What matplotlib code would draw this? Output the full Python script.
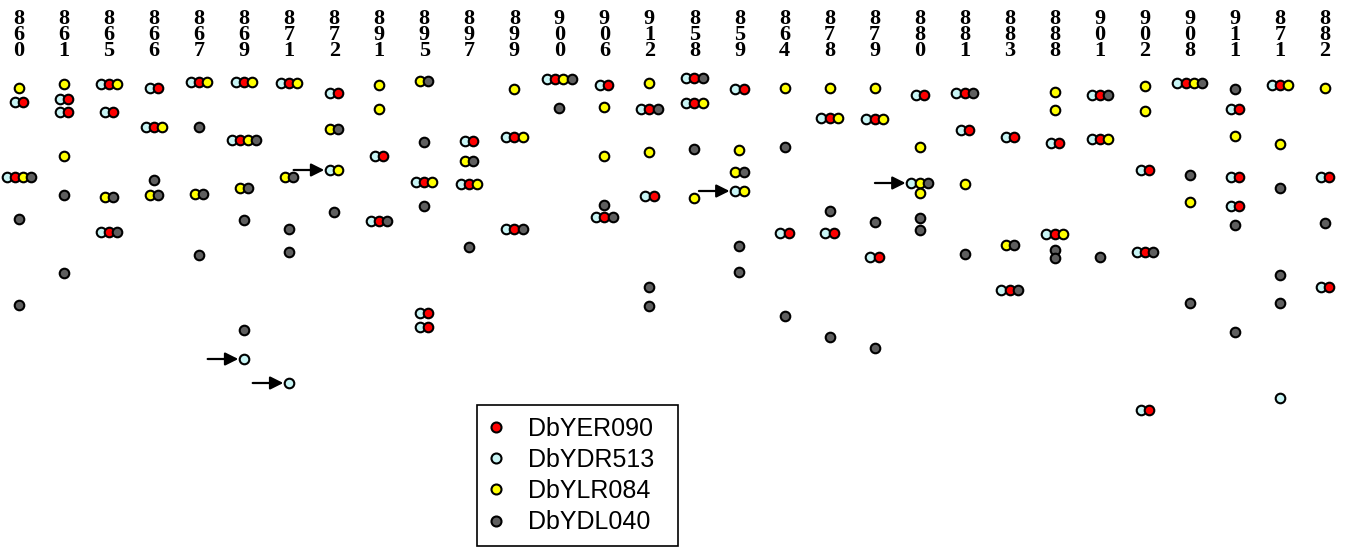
import matplotlib
matplotlib.use("Agg")
import matplotlib.pyplot as plt
from matplotlib.lines import Line2D

# column (strain) labels, read left to right
strains = ['860', '861', '865', '866', '867', '869', '871', '872', '891', '895',
           '897', '899', '900', '906', '912', '858', '859', '864', '878', '879',
           '880', '881', '883', '888', '901', '902', '908', '911', '871', '882']

# band positions per column (top = small), one list per probe
yer090 = [[102, 177], [99, 112], [84, 112, 232], [88, 127], [82], [82, 140], [83], [93],
          [156, 221], [182, 313, 327], [141, 184], [137, 229], [79], [85, 217], [109, 196],
          [78, 103], [89], [233], [118, 233], [119, 257], [95], [93, 130], [137, 290],
          [143, 234], [95, 139], [170, 252, 410], [83], [109, 177, 206], [85], [177, 287]]

ydr513 = [[102, 177], [99, 112], [84, 112, 232], [88, 127], [82], [82, 140, 359], [83, 383],
          [93, 170], [156, 221], [182, 313, 327], [141, 184], [137, 229], [79], [85, 217],
          [109, 196], [78, 103], [89, 191], [233], [118, 233], [119, 257], [95, 183], [93, 130],
          [137, 290], [143, 234], [95, 139], [170, 252, 410], [83], [109, 177, 206], [85, 398],
          [177, 287]]

ylr084 = [[88, 177], [84, 156], [84, 197], [127, 195], [82, 194], [82, 140, 188], [83, 177],
          [129, 170], [85, 109], [81, 182], [161, 184], [89, 137], [79], [107, 156], [83, 152],
          [103, 198], [150, 172, 191], [88], [88, 118], [88, 119], [147, 183, 193], [184], [245],
          [92, 110, 234], [139], [86, 111], [83, 202], [136], [85, 144], [88]]

ydl040 = [[177, 219, 305], [195, 273], [197, 232], [180, 195], [127, 194, 255],
          [140, 188, 220, 330], [177, 229, 252], [129, 212], [221], [81, 142, 206], [161, 247],
          [229], [79, 108], [205, 217], [109, 287, 306], [78, 149], [172, 246, 272], [147, 316],
          [211, 337], [222, 348], [183, 218, 230], [93, 254], [245, 290], [250, 258], [95, 257],
          [252], [83, 175, 303], [89, 225, 332], [188, 275, 303], [223]]

# bands marked with an arrow: (column index, position)
arrow_cols = [5, 6, 7, 16, 20]
arrow_pos = [359, 383, 170, 191, 183]

names = ['DbYER090', 'DbYDR513', 'DbYLR084', 'DbYDL040']
colors = ['#ff0000', '#c8f5f5', '#ffff00', '#5f5f5f']

# left-to-right order inside a cluster of coincident bands
draw_order = [1, 0, 2, 3]
series = [yer090, ydr513, ylr084, ydl040]
dx = 0.182

fig = plt.figure(figsize=(13.47, 5.48), dpi=100)
ax = fig.add_axes([0, 0, 1, 1])
ax.set_xlim(-19 / 45.03, (1347 - 19) / 45.03)
ax.set_ylim(548, 0)
ax.axis('off')

# work out x of every marker
xs = {s: [] for s in range(4)}
ys = {s: [] for s in range(4)}
left_edge = {}
for i in range(len(strains)):
    positions = sorted(set(p for s in series for p in s[i]))
    for p in positions:
        members = [s for s in draw_order if p in series[s][i]]
        n = len(members)
        for k, s in enumerate(members):
            xs[s].append(i + (k - (n - 1) / 2) * dx)
            ys[s].append(p)
        left_edge[(i, p)] = i - (n - 1) / 2 * dx

for s in draw_order:
    ax.plot(xs[s], ys[s], 'o', ls='none', ms=6.9, mfc=colors[s], mec='black', mew=1.5)

for c, p in zip(arrow_cols, arrow_pos):
    tip = left_edge[(c, p)] - 0.13
    ax.annotate('', xy=(tip, p), xytext=(tip - 0.68, p),
                arrowprops=dict(arrowstyle='-|>,head_length=0.6,head_width=0.3',
                                mutation_scale=13, lw=1.6, color='black',
                                shrinkA=0, shrinkB=0))

# vertical, stacked column labels (one digit per row)
for i, lab in enumerate(strains):
    for k, ch in enumerate(lab):
        ax.text(i, 18.5 + 16.5 * k, ch, ha='center', va='center',
                fontfamily='Liberation Serif', fontweight='bold', fontsize=16)

handles = [Line2D([], [], marker='o', ls='none', ms=7.2, mfc=colors[s], mec='black', mew=1.5)
           for s in range(4)]
leg = ax.legend(handles, names, loc='upper left',
                bbox_to_anchor=(477 / 1347, 1 - 406 / 548, 201 / 1347, 0.001),
                bbox_transform=fig.transFigure, mode='expand', borderaxespad=0,
                fancybox=False, framealpha=1, edgecolor='black', handlelength=0.62,
                handletextpad=0.95, borderpad=0.45, labelspacing=0.29,
                prop={'family': 'Liberation Sans', 'size': 18})
leg.get_frame().set_linewidth(1.2)

fig.savefig('out.png', dpi=100)
